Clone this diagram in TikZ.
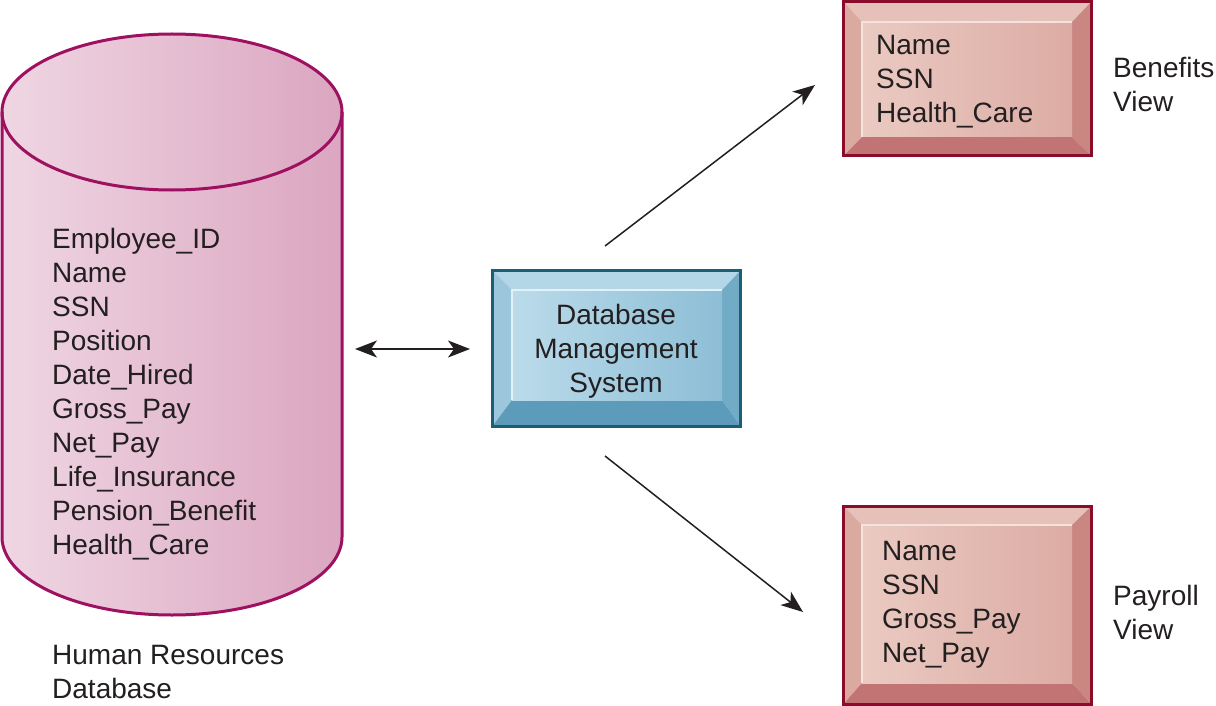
\documentclass[tikz,border=0pt]{standalone}
\usepackage{fontspec}
\setmainfont{Liberation Sans}
\usetikzlibrary{arrows.meta}
\definecolor{cylL}{HTML}{EFD6E3}
\definecolor{cylR}{HTML}{DBA6C0}
\definecolor{cylEdge}{HTML}{9E1060}
\definecolor{dbtop}{HTML}{B4D7E8}
\definecolor{dbleft}{HTML}{9CC6DC}
\definecolor{dbright}{HTML}{72ABC6}
\definecolor{dbbot}{HTML}{5C9CBA}
\definecolor{dbinL}{HTML}{BBDBEA}
\definecolor{dbinR}{HTML}{8DBED6}
\definecolor{dbhi}{HTML}{E2F1F8}
\definecolor{dbedge}{HTML}{1B5E76}
\definecolor{pktop}{HTML}{E6C1B9}
\definecolor{pkleft}{HTML}{DAA9A0}
\definecolor{pkright}{HTML}{CA8782}
\definecolor{pkbot}{HTML}{C27373}
\definecolor{pkinL}{HTML}{EACAC2}
\definecolor{pkinR}{HTML}{DCACA4}
\definecolor{pkhi}{HTML}{F4E2DD}
\definecolor{pkedge}{HTML}{8A0B2A}
\definecolor{txt}{HTML}{231F20}
\newcommand\bevelbox[9]{%
 \fill[#1top] (#2,-#3) -- (#4,-#3) -- (#8,-#7) -- (#6,-#7) -- cycle;
 \fill[#1left] (#2,-#3) -- (#6,-#7) -- (#6,-#9) -- (#2,-#5) -- cycle;
 \fill[#1right] (#4,-#3) -- (#8,-#7) -- (#8,-#9) -- (#4,-#5) -- cycle;
 \fill[#1bot] (#2,-#5) -- (#6,-#9) -- (#8,-#9) -- (#4,-#5) -- cycle;
 \shade[left color=#1inL, right color=#1inR] (#6,-#7) rectangle (#8,-#9);
 \draw[#1hi, line width=1.5pt] (#6,-#9) -- (#6,-#7) -- (#8,-#7);
 \draw[#1edge, line width=3pt] (#2,-#3) rectangle (#4,-#5);
}
\tikzset{
  lbl/.style={anchor=north west, inner sep=0pt, align=left, text=txt,
    font=\fontsize{28}{34}\selectfont},
  clbl/.style={lbl, anchor=north, align=center},
  tip/.tip={Stealth[length=22pt,width=17pt,inset=6pt]},
  conn/.style={line width=1.5pt, draw=txt, -tip},
  dconn/.style={conn, tip-tip}
}
\begin{document}
\begin{tikzpicture}[x=1pt,y=1pt]
\useasboundingbox (0,0) rectangle (1216,-706);
% cylinder
\shade[left color=cylL, right color=cylR]
  (2,-112) -- (2,-537) arc[start angle=180, end angle=360, x radius=170, y radius=78]
  -- (342,-112) arc[start angle=0, end angle=180, x radius=170, y radius=78] -- cycle;
\draw[cylEdge, line width=3pt]
  (2,-112) -- (2,-537) arc[start angle=180, end angle=360, x radius=170, y radius=78]
  -- (342,-112);
\draw[cylEdge, line width=3pt] (172,-112) ellipse[x radius=170, y radius=78];
\node[lbl] (fields) at (52,-228.5) {Employee\_ID\\Name\\SSN\\Position\\Date\_Hired\\Gross\_Pay\\Net\_Pay\\Life\_Insurance\\Pension\_Benefit\\Health\_Care};
\node[lbl] (hrlabel) at (52,-645.5) {Human Resources\\Database};
% DBMS
\bevelbox{db}{492.5}{270.5}{740.5}{426}{512}{290}{722}{400}
\node[clbl] (dbms) at (616,-304.5) {Database\\Management\\System};
% Benefits view
\bevelbox{pk}{843.5}{1.5}{1091.5}{156}{862}{22}{1072}{137}
\node[lbl] (benfields) at (876,-35.5) {Name\\SSN\\Health\_Care};
\node[lbl] (benlabel) at (1113,-57.5) {Benefits\\View};
% Payroll view
\bevelbox{pk}{843.5}{506}{1091.5}{704}{862}{525}{1072}{683}
\node[lbl] (payfields) at (882,-541.5) {Name\\SSN\\Gross\_Pay\\Net\_Pay};
\node[lbl] (paylabel) at (1113,-585.5) {Payroll\\View};
% connectors
\coordinate (hrR) at (355,-349);
\coordinate (dbmsL) at (470,-349);
\coordinate (dbmsTR) at (605,-246);
\coordinate (benBL) at (815,-85);
\coordinate (dbmsBR) at (605,-456);
\coordinate (payTL) at (803,-612);
\draw[dconn] (hrR) -- (dbmsL);
\draw[conn] (dbmsTR) -- (benBL);
\draw[conn] (dbmsBR) -- (payTL);
\end{tikzpicture}
\end{document}
